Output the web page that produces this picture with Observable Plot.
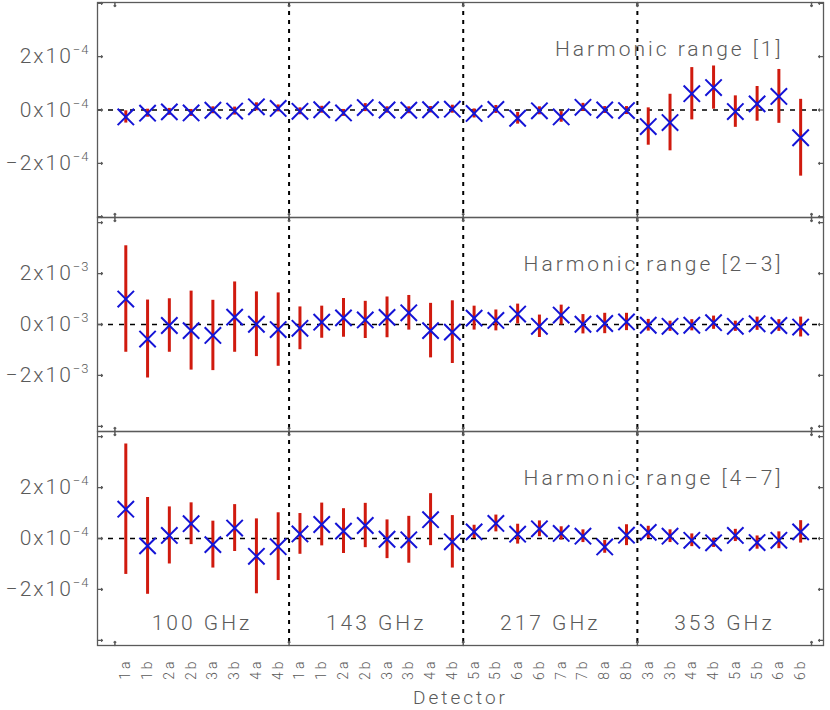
<!DOCTYPE html>
<html>
<head>
<meta charset="utf-8">
<script src="https://cdn.jsdelivr.net/npm/d3@7"></script>
<script src="https://cdn.jsdelivr.net/npm/@observablehq/plot@0.6"></script>
<style>
  body { margin: 0; background: #fff; }
  #chart { width: 830px; }
  #chart svg { display: block; }
</style>
</head>
<body>
<div id="chart"></div>
<script>
// ---------- data ----------
const detectors = ["1a","1b","2a","2b","3a","3b","4a","4b",
                   "1a","1b","2a","2b","3a","3b","4a","4b",
                   "5a","5b","6a","6b","7a","7b","8a","8b",
                   "3a","3b","4a","4b","5a","5b","6a","6b"];
const bands = ["100 GHz", "143 GHz", "217 GHz", "353 GHz"];
const perBand = 8;

const panelTitles = ["Harmonic range [1]", "Harmonic range [2\u20133]", "Harmonic range [4\u20137]"];
const panelExponents = [-4, -3, -4];

// values in units of 10^exponent
const values1 = [-0.26,-0.12,-0.07,-0.11,-0.01,-0.04,0.12,0.06,
                 -0.05,0.01,-0.11,0.09,0.00,-0.01,0.01,0.03,
                 -0.13,0.02,-0.31,-0.03,-0.26,0.10,0.00,-0.02,
                 -0.62,-0.47,0.61,0.84,-0.06,0.23,0.51,-1.04];
const errors1 = [0.23,0.15,0.13,0.13,0.13,0.15,0.15,0.13,
                 0.13,0.13,0.13,0.15,0.12,0.13,0.12,0.15,
                 0.17,0.15,0.22,0.15,0.20,0.15,0.13,0.15,
                 0.70,1.06,0.98,0.81,0.59,0.65,1.01,1.44];

const values2 = [1.00,-0.57,-0.04,-0.24,-0.43,0.29,0.01,-0.20,
                 -0.15,0.09,0.26,0.18,0.28,0.46,-0.24,-0.30,
                 0.25,0.16,0.41,-0.07,0.37,0.01,0.04,0.10,
                 -0.03,-0.07,-0.03,0.07,-0.07,0.03,-0.04,-0.10];
const errors2 = [2.09,1.53,1.05,1.55,1.38,1.38,1.27,1.44,
                 0.84,0.63,0.76,0.73,0.80,0.68,1.07,1.23,
                 0.47,0.41,0.39,0.44,0.39,0.38,0.40,0.34,
                 0.23,0.20,0.22,0.26,0.20,0.26,0.23,0.39];

const values3 = [1.15,-0.29,0.12,0.58,-0.24,0.41,-0.70,-0.32,
                 0.18,0.55,0.29,0.51,-0.03,-0.05,0.74,-0.13,
                 0.26,0.59,0.17,0.38,0.20,0.09,-0.33,0.13,
                 0.24,0.09,-0.07,-0.17,0.12,-0.16,-0.07,0.26];
const errors3 = [2.56,1.90,1.12,0.82,0.92,0.92,1.47,1.33,
                 0.80,0.84,0.88,0.87,0.76,0.92,1.02,1.03,
                 0.26,0.33,0.39,0.31,0.26,0.25,0.25,0.41,
                 0.24,0.25,0.25,0.18,0.24,0.26,0.33,0.44];

const yTickLabels = [-2, 0, 2];
const yTickMarks = [-4, -2, 0, 2, 4];
const yLimits = [4.03, 4.2, 4.2];

// ---------- style ----------
const gray = "#5a5a5a";
const red = "#d01a0e";
const blue = "#1414d6";
const fontFamily = "Roboto, 'DejaVu Sans', sans-serif";

const xDomain = [-1.3, detectors.length + 0.05];
const boundaries = bands.slice(1).map((b, k) => (k + 1) * perBand - 0.5);
const edgeTicks = [-0.5, ...boundaries, detectors.length - 0.5];
const minus = n => (n < 0 ? "\u2212" : "") + Math.abs(n);

function panel(p, values, errors, cfg) {
  const rows = values.map((v, i) => ({i, v, lo: v - errors[i], hi: v + errors[i]}));
  const marks = [
    Plot.ruleY([0], {stroke: "#000", strokeWidth: 1.5, strokeDasharray: "5,6"}),
    Plot.ruleX(boundaries, {stroke: "#000", strokeWidth: 2, strokeDasharray: "4,5"}),
    Plot.ruleX(rows, {x: "i", y1: "lo", y2: "hi", stroke: red, strokeWidth: 3}),
    Plot.dot(rows, {x: "i", y: "v", symbol: "times", r: 7.5, stroke: blue, strokeWidth: 2}),
    Plot.frame({stroke: gray, strokeWidth: 1.3}),
    Plot.vector(yTickMarks, {y: d => d, frameAnchor: "left", rotate: 90, length: 5, anchor: "start", stroke: gray, strokeWidth: 1.2}),
    Plot.vector(yTickMarks, {y: d => d, frameAnchor: "right", rotate: -90, length: 5, anchor: "start", stroke: gray, strokeWidth: 1.2}),
    Plot.vector(edgeTicks, {x: d => d, frameAnchor: "top", rotate: 180, length: 4, anchor: "start", stroke: gray, strokeWidth: 1.5}),
    Plot.vector(edgeTicks, {x: d => d, frameAnchor: "bottom", rotate: 0, length: 4, anchor: "start", stroke: gray, strokeWidth: 1.5}),
    Plot.axisY(yTickLabels, {tickSize: 0, tickPadding: 8, label: null, fontSize: 21, fill: gray,
      tickFormat: d => `${minus(d)}x10|${minus(panelExponents[p])}`}),
    Plot.text([panelTitles[p]], {frameAnchor: "top-right", dx: -40, dy: 47, textAnchor: "end",
      lineAnchor: "middle", fontSize: 21, fill: gray})
  ];
  if (cfg.bottom) {
    marks.push(
      Plot.text(bands, {x: (d, k) => k * perBand + (perBand - 1) / 2, frameAnchor: "bottom", dy: -22,
        lineAnchor: "middle", fontSize: 21, fill: gray}),
      Plot.axisX(detectors.map((d, i) => i), {tickRotate: -90, tickSize: 0, tickPadding: 13, label: null,
        tickFormat: i => detectors[i], fontSize: 14, fill: gray}),
      Plot.text(["Detector"], {frameAnchor: "bottom", dy: 52, lineAnchor: "middle", fontSize: 19, fill: gray})
    );
  }
  const svg = Plot.plot({
    width: 830,
    height: cfg.height,
    marginLeft: 97,
    marginRight: 7,
    marginTop: cfg.marginTop,
    marginBottom: cfg.marginBottom,
    style: {fontFamily, fontWeight: 300, letterSpacing: "3px", background: "#fff", overflow: "visible"},
    x: {domain: xDomain, axis: cfg.bottom ? undefined : null},
    y: {domain: [-yLimits[p], yLimits[p]]},
    marks
  });
  // superscript exponents on y tick labels
  svg.querySelectorAll('[aria-label="y-axis tick label"] text').forEach(t => {
    t.setAttribute("letter-spacing", "2px");
    const [base, sup] = t.textContent.split("|");
    if (sup === undefined) return;
    t.textContent = base;
    const ts = document.createElementNS("http://www.w3.org/2000/svg", "tspan");
    ts.setAttribute("dy", "-9");
    ts.setAttribute("font-size", "13");
    ts.setAttribute("letter-spacing", "1px");
    ts.textContent = sup;
    t.appendChild(ts);
  });
  return svg;
}

const chart = document.getElementById("chart");
chart.appendChild(panel(0, values1, errors1, {height: 217, marginTop: 2, marginBottom: 0}));
chart.appendChild(panel(1, values2, errors2, {height: 214, marginTop: 0, marginBottom: 0}));
chart.appendChild(panel(2, values3, errors3, {height: 279, marginTop: 0, marginBottom: 65, bottom: true}));
</script>
</body>
</html>
